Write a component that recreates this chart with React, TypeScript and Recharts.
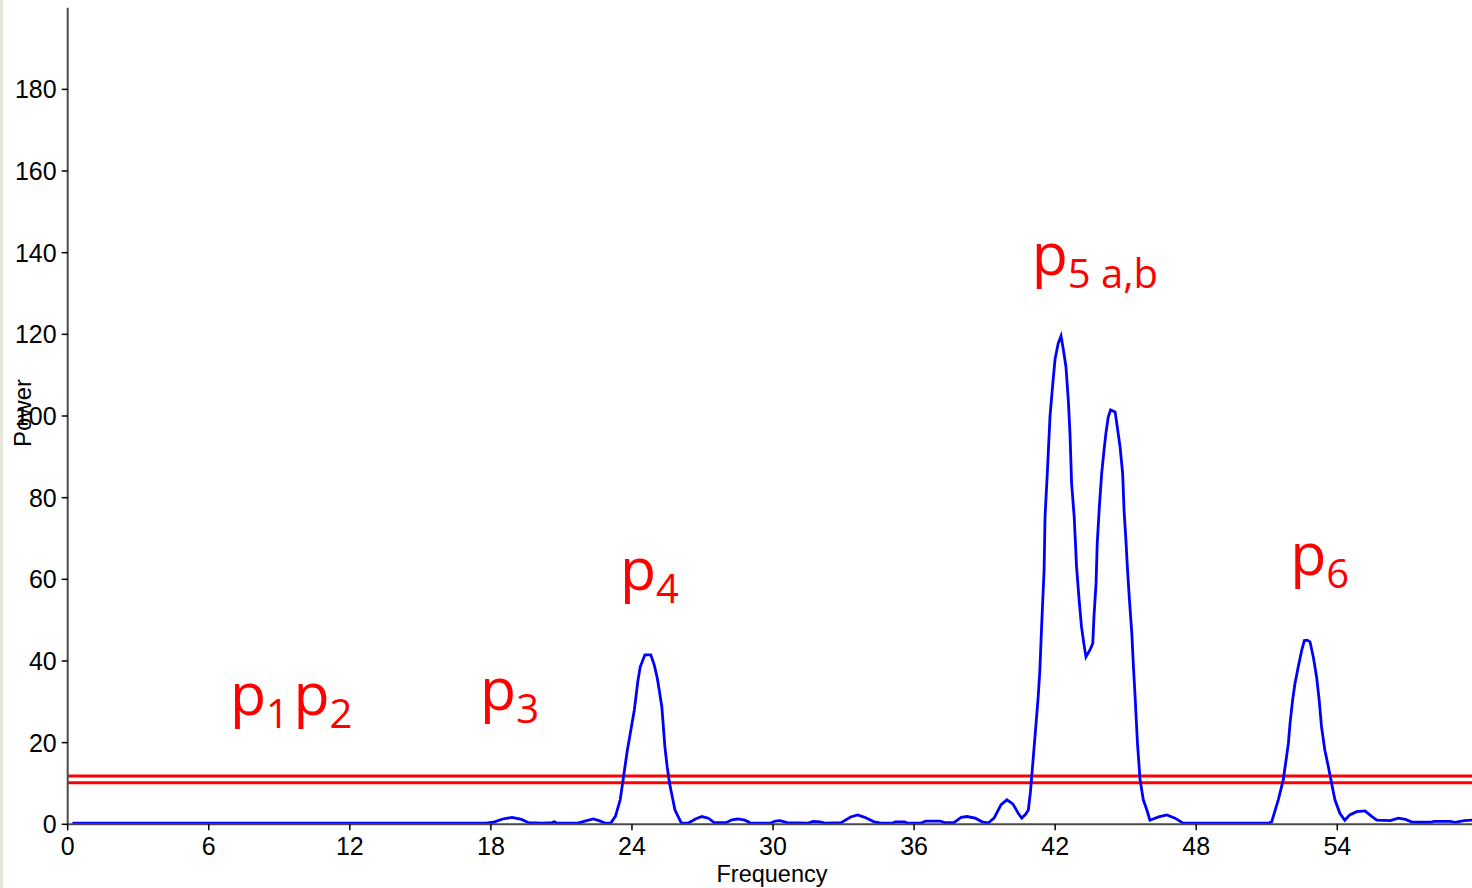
import {
    LineChart,
    Line,
    XAxis,
    YAxis,
    ReferenceLine,
    ReferenceDot
} from 'recharts';

// Frequency (x) and power (y) samples
const frequency = [
    0.2, 2, 4, 6, 8, 10, 12, 14, 16, 17.8, 18.1, 18.5, 18.9, 19.3, 19.6, 20.2, 20.6, 20.7, 20.8,
    21.7, 22.0, 22.35, 22.6, 22.85, 23.1, 23.3, 23.5, 23.65, 23.8, 23.95, 24.1, 24.25, 24.35, 24.55,
    24.8, 24.95, 25.07, 25.17, 25.27, 25.4, 25.5, 25.6, 25.83, 26.1, 26.4, 26.7, 26.97, 27.25, 27.5,
    28.0, 28.25, 28.5, 28.8, 29.05, 29.9, 30.1, 30.3, 30.6, 31.5, 31.7, 32.0, 32.2, 32.9, 33.3, 33.6,
    33.9, 34.3, 34.6, 35.1, 35.2, 35.6, 35.7, 36.3, 36.5, 37.1, 37.3, 37.7, 38.0, 38.25, 38.6, 38.9,
    39.15, 39.4, 39.7, 39.95, 40.2, 40.45, 40.58, 40.75, 40.86, 40.95, 41.05, 41.15, 41.28, 41.35,
    41.43, 41.53, 41.57, 41.68, 41.78, 41.9, 42.0, 42.13, 42.25, 42.35, 42.46, 42.56, 42.63, 42.7,
    42.81, 42.91, 43.02, 43.12, 43.22, 43.31, 43.48, 43.6, 43.65, 43.74, 43.79, 43.88, 43.98, 44.08,
    44.16, 44.26, 44.36, 44.55, 44.64, 44.76, 44.87, 44.93, 45.01, 45.07, 45.16, 45.26, 45.33, 45.4,
    45.5, 45.61, 45.75, 45.9, 46.03, 46.4, 46.75, 47.1, 47.44, 48, 50, 51.1, 51.21, 51.49, 51.7,
    51.82, 51.92, 51.99, 52.1, 52.2, 52.34, 52.49, 52.6, 52.72, 52.84, 52.98, 53.12, 53.23, 53.33,
    53.47, 53.62, 53.76, 53.9, 54.11, 54.32, 54.53, 54.82, 55.18, 55.45, 55.68, 56.25, 56.6, 56.9,
    57.2, 58.0, 58.1, 58.8, 59.0, 59.4, 59.73
];

const power = [
    0.3, 0.3, 0.3, 0.3, 0.3, 0.3, 0.3, 0.3, 0.3, 0.3, 0.5, 1.3, 1.7, 1.2, 0.4, 0.3, 0.4, 0.6, 0.3,
    0.3, 0.8, 1.3, 0.9, 0.3, 0.3, 2, 6, 12, 18, 23, 28, 35, 38.5, 41.5,
    41.5, 39, 36, 32.5, 28.8, 19, 14, 10, 3.5, 0.3, 0.3, 1.3, 1.9, 1.5, 0.4,
    0.4, 1.1, 1.3, 1.0, 0.3, 0.3, 0.8, 0.9, 0.4, 0.3, 0.7, 0.6, 0.3, 0.4, 1.8, 2.3,
    1.7, 0.6, 0.3, 0.3, 0.6, 0.6, 0.3, 0.3, 0.8, 0.8, 0.4, 0.4, 1.7, 1.9, 1.5, 0.6,
    0.3, 1.5, 4.8, 6, 5, 2.5, 1.5, 2.5, 3.5, 8, 15, 22, 31.3, 37.8,
    49.2, 62.3, 75.3, 87.6, 99.8, 108, 114.1, 117.8, 119.6, 116.2, 112, 103.9, 95.8, 83.5,
    75.3, 63.1, 54.9, 48.4, 44.3, 41, 42.7, 44.3, 50.8, 59, 68.8, 77.8, 86, 91.7,
    95.8, 99.8, 101.5, 101, 97.4, 92.5, 86, 77, 69.6, 63.1, 54.9, 46.8, 38.6, 31.3,
    20, 11, 6, 3.5, 1, 1.8, 2.3, 1.5, 0.3, 0.3, 0.3, 0.3, 0.6, 6, 10.8,
    15.7, 19.8, 24.7, 30.4, 34.5, 38.6, 42.7, 45, 45.1, 44.7, 41, 36.1, 30.4, 23.9,
    18.2, 14.1, 10, 6, 2.7, 1, 2.3, 3.1, 3.3, 2, 1, 0.9, 1.5, 1.2,
    0.5, 0.5, 0.7, 0.7, 0.5, 0.9, 1.0
];

const xTicks = [0, 6, 12, 18, 24, 30, 36, 42, 48, 54];
const yTicks = [0, 20, 40, 60, 80, 100, 120, 140, 160, 180];

// significance thresholds
const thresholds = [11.8, 10.2];

// peak annotations, anchored at (frequency, power) of the text baseline start
const peakNames = ['p', 'p', 'p', 'p', 'p', 'p'];
const peakSubs = ['1', '2', '3', '4', '5 a,b', '6'];
const peakFreq = [6.9, 9.6, 17.54, 23.49, 41.0, 52.0];
const peakPower = [26.8, 26.8, 28.0, 57.4, 134.5, 61.0];

const data = frequency.map((f, i) => ({ f, power: power[i] }));

const FONT = "'Liberation Sans', Arial, sans-serif";

function peakLabel(main: string, sub: string) {
    return (props: any) => {
        const vb = props.viewBox || { x: 0, y: 0, width: 0, height: 0 };
        const x = vb.x + (vb.width || 0) / 2;
        const y = vb.y + (vb.height || 0) / 2;
        return (
            <text x={x} y={y} fill="#ff0000" fontFamily="'Open Sans', sans-serif" fontSize={59}>
                <tspan>{main}</tspan>
                <tspan fontSize={40} dy={13}>{sub}</tspan>
            </text>
        );
    };
}

export default function App() {
    return (
        <div style={{ position: 'fixed', left: 0, top: 0, width: 1472, height: 888, background: '#fff' }}>
            <div style={{ position: 'absolute', left: 0, top: 0, width: 3, height: 888, background: '#e9e7da' }} />
            <LineChart
                width={1472}
                height={888}
                data={data}
                margin={{ top: 7.7, right: 0, left: 0, bottom: 23.7 }}
                style={{ fontFamily: FONT }}
            >
                <XAxis
                    dataKey="f"
                    type="number"
                    domain={[0, 59.73]}
                    ticks={xTicks}
                    allowDataOverflow
                    height={40}
                    stroke="#4a4a4a"
                    strokeWidth={2}
                    tickSize={6}
                    tickMargin={7}
                    tickLine={{ stroke: '#000', strokeWidth: 1.5 }}
                    tick={{ fontSize: 25, fill: '#000', fontFamily: FONT }}
                    label={(props: any) => {
                        const vb = props.viewBox;
                        return (
                            <text x={772} y={vb.y + 57.7} textAnchor="middle" fontSize={23.5} fill="#000" fontFamily={FONT}>
                                Frequency
                            </text>
                        );
                    }}
                />
                <YAxis
                    type="number"
                    domain={[0, 200]}
                    ticks={yTicks}
                    allowDataOverflow
                    width={67.7}
                    stroke="#4a4a4a"
                    strokeWidth={2}
                    tickSize={6}
                    tickMargin={5}
                    tickLine={{ stroke: '#000', strokeWidth: 1.5 }}
                    tick={{ fontSize: 25, fill: '#000', fontFamily: FONT }}
                    label={(props: any) => {
                        const vb = props.viewBox;
                        const cy = vb.y + vb.height / 2 - 3;
                        return (
                            <text
                                x={30.5}
                                y={cy}
                                textAnchor="middle"
                                transform={`rotate(-90, 30.5, ${cy})`}
                                fontSize={24}
                                fill="#000"
                                fontFamily={FONT}
                            >
                                Power
                            </text>
                        );
                    }}
                />
                {thresholds.map((t) => (
                    <ReferenceLine key={t} y={t} stroke="#ff0000" strokeWidth={3} ifOverflow="visible" />
                ))}
                <Line
                    type="linear"
                    dataKey="power"
                    stroke="#0000ff"
                    strokeWidth={2.8}
                    dot={false}
                    activeDot={false}
                    isAnimationActive={false}
                />
                {peakNames.map((name, i) => (
                    <ReferenceDot
                        key={i}
                        x={peakFreq[i]}
                        y={peakPower[i]}
                        r={0}
                        fill="none"
                        stroke="none"
                        ifOverflow="visible"
                        label={peakLabel(name, peakSubs[i])}
                    />
                ))}
            </LineChart>
        </div>
    );
}
